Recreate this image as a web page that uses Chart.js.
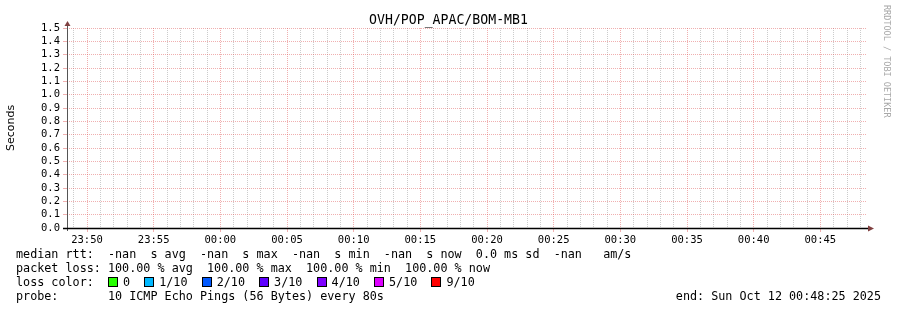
<!DOCTYPE html>
<html>
<head>
<meta charset="utf-8">
<script src="https://cdn.jsdelivr.net/npm/chart.js@4.4.0/dist/chart.umd.min.js"></script>
<style>
  html, body { margin: 0; padding: 0; background: #ffffff; }
  #wrap { position: relative; width: 897px; height: 310px; overflow: hidden; }
  #c { position: absolute; left: 0; top: 0; }
  .mono { font-family: "DejaVu Sans Mono", monospace; color: #000; white-space: pre; position: absolute; }
  #title { left: 0; width: 897px; top: 11px; text-align: center; font-size: 13.2px; line-height: 18px; }
  #wm { font-size: 8.5px; color: #a8a8a8; writing-mode: vertical-rl; left: 881px; top: 5px; line-height: 11px; }
  .lg { left: 16px; font-size: 11.75px; line-height: 14px; }
  .box { display: inline-block; width: 8px; height: 8px; border: 1px solid #000; margin-right: 5px; vertical-align: -1px; }
  #endtxt { right: 16px; font-size: 11.75px; line-height: 14px; }
</style>
</head>
<body>
<div id="wrap">
  <canvas id="c" width="897" height="310"></canvas>
  <div id="title" class="mono"></div>
  <div id="wm" class="mono"></div>
  <div id="l1" class="mono lg" style="top:247px"></div>
  <div id="l2" class="mono lg" style="top:261px"></div>
  <div id="l3" class="mono lg" style="top:275px"></div>
  <div id="l4" class="mono lg" style="top:289px"></div>
  <div id="endtxt" class="mono" style="top:289px"></div>
</div>
<script>
// ---- data ----
const chartTitle = 'OVH/POP_APAC/BOM-MB1';
const yAxisTitle = 'Seconds';
const watermark = 'RRDTOOL / TOBI OETIKER';
// time axis: minutes relative to 23:50, window 23:48:30 .. 00:48:30
const xStartMinute = -1.5;
const xEndMinute = 58.5;
const xTickLabels = ['23:50','23:55','00:00','00:05','00:10','00:15','00:20','00:25','00:30','00:35','00:40','00:45'];
const yTickLabels = ['0.0','0.1','0.2','0.3','0.4','0.5','0.6','0.7','0.8','0.9','1.0','1.1','1.2','1.3','1.4','1.5'];
const yMin = 0.0;
const yMax = 1.5;
// median rtt samples (seconds): no data received (all -nan)
const sampleMinutes = [];
const medianRtt = [];
// legend statistics
const rttStatNames = ['avg','max','min','now'];
const rttStatValues = ['-nan','-nan','-nan','-nan'];
const rttSd = '0.0';
const rttAmS = '-nan';
const lossStatNames = ['avg','max','min','now'];
const lossStatValues = ['100.00','100.00','100.00','100.00'];
const lossColorLabels = ['0','1/10','2/10','3/10','4/10','5/10','9/10'];
const lossColors = ['#26ff00','#00b8ff','#0059ff','#5e00ff','#7e00ff','#dd00ff','#ff0000'];
const probeText = '10 ICMP Echo Pings (56 Bytes) every 80s';
const endText = 'end: Sun Oct 12 00:48:25 2025';

// ---- text ----
document.getElementById('title').textContent = chartTitle;
document.getElementById('wm').textContent = watermark;
document.getElementById('l1').textContent = 'median rtt:  ' +
  rttStatValues.map((v, i) => v + '  s ' + rttStatNames[i]).join('  ') +
  '  ' + rttSd + ' ms sd  ' + rttAmS + '   am/s';
document.getElementById('l2').textContent = 'packet loss: ' +
  lossStatValues.map((v, i) => v + ' % ' + lossStatNames[i]).join('  ');
(function () {
  const l3 = document.getElementById('l3');
  l3.appendChild(document.createTextNode('loss color:  '));
  lossColorLabels.forEach((lab, i) => {
    const b = document.createElement('span');
    b.className = 'box';
    b.style.background = lossColors[i];
    l3.appendChild(b);
    l3.appendChild(document.createTextNode(lab + (i < lossColorLabels.length - 1 ? '  ' : '')));
  });
})();
document.getElementById('l4').textContent = 'probe:       ' + probeText;
document.getElementById('endtxt').textContent = endText;

// ---- chart ----
const MGRID = 'rgba(222,79,79,0.45)';
const GRID = 'rgba(143,143,143,0.45)';
const ARROW = '#804040';

const axesPlugin = {
  id: 'rrdAxes',
  afterDraw(chart) {
    const a = chart.chartArea;
    const ctx = chart.ctx;
    ctx.save();
    // y axis
    ctx.strokeStyle = '#555555';
    ctx.lineWidth = 1;
    ctx.beginPath();
    ctx.moveTo(a.left + 0.5, a.bottom + 3);
    ctx.lineTo(a.left + 0.5, a.top - 3);
    ctx.stroke();
    // x axis
    ctx.strokeStyle = '#000000';
    ctx.lineWidth = 1.6;
    ctx.beginPath();
    ctx.moveTo(a.left - 4, a.bottom + 0.5);
    ctx.lineTo(a.right + 1, a.bottom + 0.5);
    ctx.stroke();
    // arrows
    ctx.fillStyle = ARROW;
    ctx.beginPath();
    ctx.moveTo(a.left + 0.5, a.top - 7);
    ctx.lineTo(a.left - 2.5, a.top - 2);
    ctx.lineTo(a.left + 3.5, a.top - 2);
    ctx.closePath();
    ctx.fill();
    ctx.beginPath();
    ctx.moveTo(a.right + 7, a.bottom + 0.5);
    ctx.lineTo(a.right + 1, a.bottom - 2.5);
    ctx.lineTo(a.right + 1, a.bottom + 3.5);
    ctx.closePath();
    ctx.fill();
    ctx.restore();
  }
};

new Chart(document.getElementById('c'), {
  type: 'line',
  data: {
    datasets: [{
      label: 'median rtt',
      data: sampleMinutes.map((m, i) => ({ x: m, y: medianRtt[i] })),
      borderColor: '#26ff00',
      pointRadius: 0,
      spanGaps: false
    }]
  },
  options: {
    responsive: false,
    animation: false,
    devicePixelRatio: 1,
    layout: { padding: { top: 28, right: 30, left: 0, bottom: 0 } },
    plugins: { legend: { display: false }, tooltip: { enabled: false }, title: { display: false } },
    scales: {
      x: {
        type: 'linear',
        min: xStartMinute,
        max: xEndMinute,
        afterBuildTicks(scale) {
          const t = [];
          for (let m = Math.ceil(xStartMinute); m <= Math.floor(xEndMinute); m++) t.push({ value: m });
          scale.ticks = t;
        },
        afterFit(scale) { scale.height = 82; },
        ticks: {
          autoSkip: false,
          maxRotation: 0,
          minRotation: 0,
          padding: 2,
          color: '#000',
          font: { family: 'DejaVu Sans Mono', size: 10.5 },
          callback(v) {
            if (v % 5 !== 0) return '';
            const idx = v / 5;
            return xTickLabels[idx] !== undefined ? xTickLabels[idx] : '';
          }
        },
        grid: {
          color: (c) => (c.tick && c.tick.value % 5 === 0) ? MGRID : GRID,
          tickColor: (c) => (c.tick && c.tick.value % 5 === 0) ? MGRID : 'rgba(0,0,0,0)',
          tickLength: 4,
          lineWidth: 1
        },
        border: { display: false, dash: [1, 1] }
      },
      y: {
        min: yMin,
        max: yMax,
        afterBuildTicks(scale) {
          scale.ticks = yTickLabels.map((s) => ({ value: parseFloat(s) }));
        },
        afterFit(scale) { scale.width = 67; },
        ticks: {
          autoSkip: false,
          padding: 3,
          color: '#000',
          font: { family: 'DejaVu Sans Mono', size: 10.5, lineHeight: 1.0 },
          callback(v, i) { return yTickLabels[i]; }
        },
        title: {
          display: true,
          text: yAxisTitle,
          color: '#000',
          font: { family: 'DejaVu Sans', size: 11 },
          padding: { top: 5, bottom: 0 }
        },
        grid: {
          color: MGRID,
          tickColor: MGRID,
          tickLength: 4,
          lineWidth: 1
        },
        border: { display: false, dash: [1, 1] }
      }
    }
  },
  plugins: [axesPlugin]
});
</script>
</body>
</html>
